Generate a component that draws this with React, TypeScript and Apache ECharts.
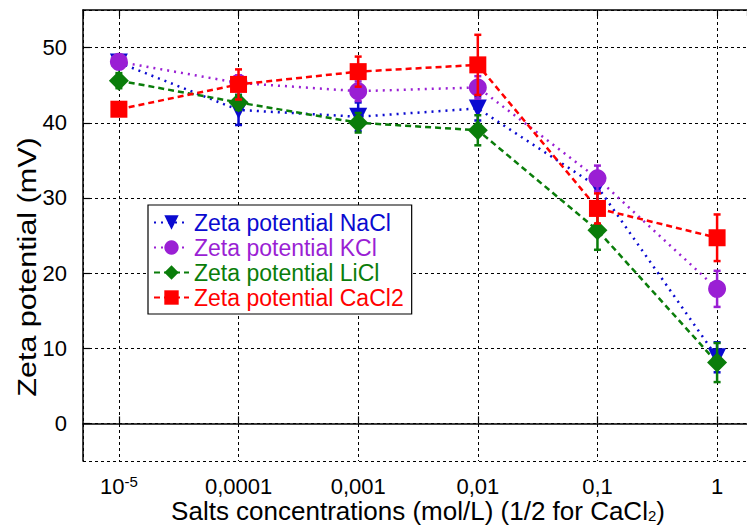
import React, { useEffect, useRef } from "react";
import * as echarts from "echarts";

const concentrations = [1e-5, 1e-4, 1e-3, 1e-2, 1e-1, 1];
const tickLabels = ["{b|10}{sup|-5}", "0,0001", "0,001", "0,01", "0,1", "1"];

const seriesNames = [
  "Zeta potential NaCl",
  "Zeta potential KCl",
  "Zeta potential LiCl",
  "Zeta potential CaCl2",
];
const naclValues = [48.0, 41.7, 40.8, 41.9, 31.5, 8.8];
const naclErrors = [0.6, 2.0, 1.9, 1.6, 2.0, 2.0];
const kclValues = [48.1, 45.3, 44.2, 44.7, 32.6, 17.9];
const kclErrors = [0.8, 1.0, 1.3, 1.5, 1.7, 2.4];
const liclValues = [45.6, 42.7, 40.0, 39.0, 25.7, 8.1];
const liclErrors = [1.0, 1.0, 1.3, 2.0, 2.6, 2.6];
const cacl2Values = [41.8, 45.1, 46.8, 47.7, 28.6, 24.7];
const cacl2Errors = [0.6, 2.0, 2.0, 4.0, 2.0, 3.1];

const FONT = "Liberation Sans";

export default function App() {
  const ref = useRef<HTMLDivElement>(null);
  useEffect(() => {
    if (!ref.current) return;
    const chart = echarts.init(ref.current, null, { renderer: "svg", width: 747, height: 525 });

    const defs = [
      { name: seriesNames[0], values: naclValues, errors: naclErrors, color: "#0a0ad0", symbol: "triangle", rotate: 180, size: 18, dash: [2, 5] },
      { name: seriesNames[1], values: kclValues, errors: kclErrors, color: "#9a1fd4", symbol: "circle", rotate: 0, size: 18, dash: [2, 5] },
      { name: seriesNames[2], values: liclValues, errors: liclErrors, color: "#0a7d0a", symbol: "diamond", rotate: 0, size: 20, dash: [6, 4] },
      { name: seriesNames[3], values: cacl2Values, errors: cacl2Errors, color: "#ff0000", symbol: "rect", rotate: 0, size: 17, dash: [6, 4] },
    ];

    const series: any[] = [];
    defs.forEach((d, i) => {
      series.push({
        type: "custom",
        name: d.name + " error",
        xAxisIndex: 0,
        yAxisIndex: 0,
        z: 3 + i,
        data: concentrations.map((c, k) => [c, d.values[k], d.errors[k]]),
        renderItem: (params: any, api: any) => {
          const x = api.value(0);
          const y = api.value(1);
          const e = api.value(2);
          const top = api.coord([x, y + e]);
          const bot = api.coord([x, y - e]);
          const style = { stroke: d.color, lineWidth: 2.5 };
          const w = 3.5;
          return {
            type: "group",
            children: [
              { type: "line", shape: { x1: top[0], y1: top[1], x2: bot[0], y2: bot[1] }, style },
              { type: "line", shape: { x1: top[0] - w, y1: top[1], x2: top[0] + w, y2: top[1] }, style },
              { type: "line", shape: { x1: bot[0] - w, y1: bot[1], x2: bot[0] + w, y2: bot[1] }, style },
            ],
          };
        },
      });
      series.push({
        type: "line",
        name: d.name,
        xAxisIndex: 0,
        yAxisIndex: 0,
        z: 3 + i,
        data: concentrations.map((c, k) => [c, d.values[k]]),
        symbol: d.symbol,
        symbolSize: d.size,
        symbolRotate: d.rotate,
        showAllSymbol: true,
        itemStyle: { color: d.color, borderWidth: 0 },
        lineStyle: { color: d.color, width: 2.5, type: d.dash },
      });
    });

    const xLabel = (v: number) => {
      const lg = Math.log10(v);
      const r = Math.round(lg);
      if (Math.abs(lg - r) > 0.01) return "";
      const idx = r + 5;
      return tickLabels[idx] ?? "";
    };

    chart.setOption({
      animation: false,
      backgroundColor: "#ffffff",
      textStyle: { fontFamily: FONT },
      grid: { left: 83, top: 10, width: 664, height: 451, containLabel: false, outerBoundsMode: "none" },
      legend: {
        orient: "vertical",
        left: 148,
        top: 205,
        backgroundColor: "#ffffff",
        borderColor: "#000000",
        borderWidth: 1.2,
        borderRadius: 0,
        padding: [6, 8, 5, 5],
        itemGap: 2,
        itemWidth: 35,
        itemHeight: 18,
        textStyle: { fontSize: 23, fontFamily: FONT },
        data: defs.map((d) => ({ name: d.name, textStyle: { color: d.color } })),
      },
      xAxis: [
        {
          type: "log",
          logBase: 10,
          min: Math.pow(10, -5.3),
          max: Math.pow(10, 0.25),
          position: "bottom",
          axisLine: { show: true, lineStyle: { color: "#000", width: 1.5 } },
          axisTick: { show: true, inside: true, length: 7, lineStyle: { color: "#000", width: 1.2 } },
          minorTick: { show: false },
          splitLine: { show: true, lineStyle: { color: "#000", width: 1, type: [3, 3] } },
          axisLabel: {
            showMinLabel: false,
            showMaxLabel: false,
            margin: 15,
            fontSize: 22,
            lineHeight: 20,
            color: "#000",
            fontFamily: FONT,
            formatter: xLabel,
            rich: {
              b: { fontSize: 22, lineHeight: 20, fontFamily: FONT, color: "#000" },
              sup: { fontSize: 15, lineHeight: 14, fontFamily: FONT, color: "#000", padding: [0, 0, 10, 0] },
            },
          },
        },
        {
          type: "log",
          logBase: 10,
          min: Math.pow(10, -5.3),
          max: Math.pow(10, 0.25),
          position: "top",
          axisLine: { show: true, lineStyle: { color: "#000", width: 1.5 } },
          axisTick: { show: true, inside: true, length: 6, lineStyle: { color: "#000", width: 1.2 } },
          splitLine: { show: false },
          axisLabel: { show: false },
        },
      ],
      yAxis: [
        {
          type: "value",
          min: -5,
          max: 55,
          splitNumber: 5,
          axisLine: { show: true, lineStyle: { color: "#000", width: 1.5 } },
          axisTick: { show: true, inside: true, length: 7, lineStyle: { color: "#000", width: 1.2 } },
          splitLine: { show: true, lineStyle: { color: "#000", width: 1, type: [3, 3] } },
          axisLabel: {
            showMinLabel: false,
            showMaxLabel: false,
            margin: 16,
            fontSize: 22,
            color: "#000",
            fontFamily: FONT,
          },
        },
      ],
      graphic: [
        {
          type: "text",
          x: 27,
          y: 267,
          rotation: Math.PI / 2,
          scaleX: 1.22,
          style: {
            text: "Zeta potential (mV)",
            x: 0,
            y: 0,
            align: "center",
            verticalAlign: "middle",
            font: `25px "${FONT}"`,
            fill: "#000",
          },
        },
        {
          type: "text",
          x: 418,
          y: 511,
          style: {
            text: "Salts concentrations (mol/L) (1/2 for CaCl{sub|2})",
            x: 0,
            y: 0,
            align: "center",
            verticalAlign: "middle",
            fontSize: 26,
            lineHeight: 22,
            fontFamily: FONT,
            fill: "#000",
            rich: {
              sub: { fontSize: 15, lineHeight: 12, fontFamily: FONT, fill: "#000", padding: [9, 0, 0, 0] },
            },
          },
        },
      ],
      series,
    });
    return () => chart.dispose();
  }, []);

  return (
    <div
      ref={ref}
      style={{ position: "absolute", left: 0, top: 0, width: 747, height: 525 }}
    />
  );
}
